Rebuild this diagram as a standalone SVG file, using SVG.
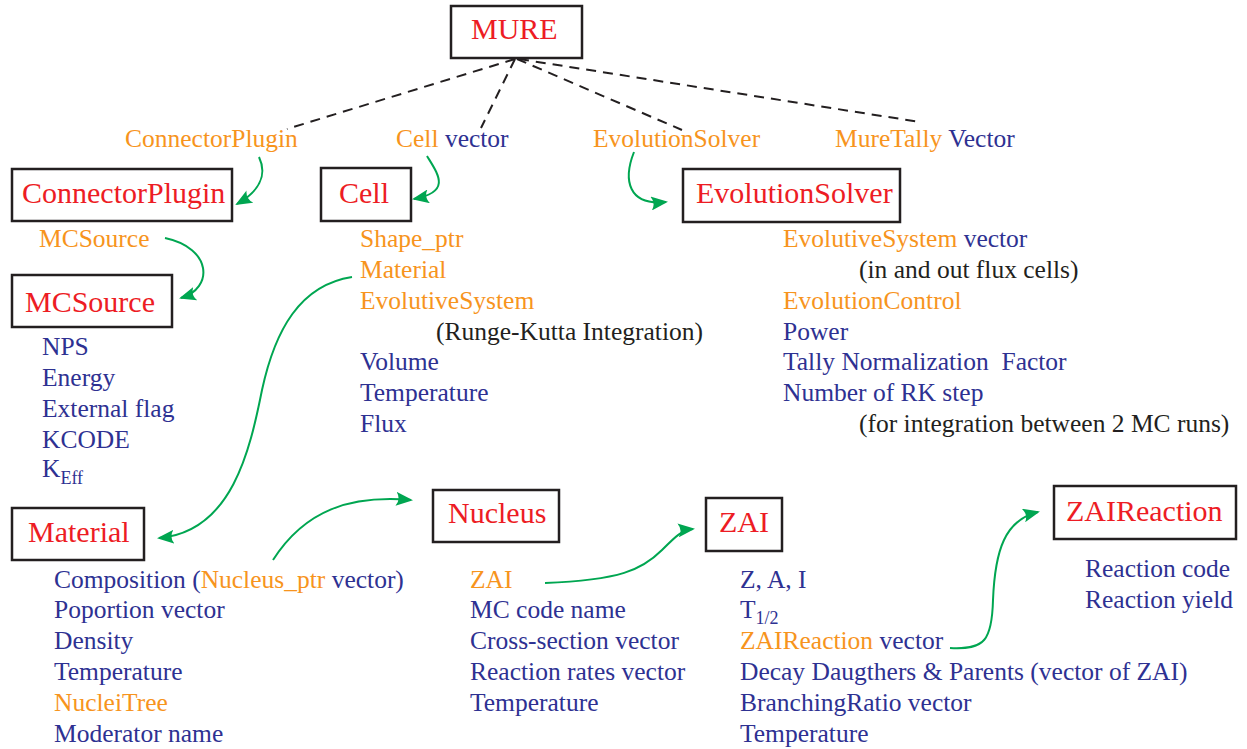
<svg xmlns="http://www.w3.org/2000/svg" width="1247" height="749" viewBox="0 0 1247 749">
<style>
text{font-family:"Liberation Serif","Times New Roman",serif;font-size:25.5px;fill:#2e3192}
.t{font-size:30px;fill:#ed1c24}
.o{fill:#f7941d}
.n{fill:#2e3192}
.k{fill:#231f20}
.sub{font-size:18px}
.box{fill:#fff;stroke:#231f20;stroke-width:2.5}
.dash{fill:none;stroke:#231f20;stroke-width:2;stroke-dasharray:10 7}
.g{fill:none;stroke:#00a651;stroke-width:2;marker-end:url(#ah)}
</style>
<defs>
<marker id="ah" viewBox="0 0 17 14" refX="15" refY="7" markerWidth="17" markerHeight="14" markerUnits="userSpaceOnUse" orient="auto">
<path d="M0,0 L17,7 L0,14 Q5,7 0,0 z" fill="#00a651"/>
</marker>
</defs>
<rect width="1247" height="749" fill="#fff"/>

<g id="connectors">
<path class="dash" d="M515,59 L287,129"/>
<path class="dash" d="M515,59 L481,128"/>
<path class="dash" d="M517,59 L682,130"/>
<path class="dash" d="M519,59 L920,122"/>
<path class="g" d="M259,157 C268,176 258,192 237,204"/>
<path class="g" d="M427,156 C438,174 452,192 414,199"/>
<path class="g" d="M634,152 C623,180 628,206 666,202"/>
<path class="g" d="M165,238 C212,248 214,288 181,298"/>
<path class="g" d="M352,277 C300,285 275,330 262,390 C250,450 232,532 159,538"/>
<path class="g" d="M273,560 C305,510 350,495 411,500"/>
<path class="g" d="M545,583 C620,580 642,570 662,550 C676,536 682,530 693,529"/>
<path class="g" d="M950,648 C985,650 992,640 993,600 C995,550 1005,520 1038,512"/>
</g>

<g id="mure">
<rect class="box" x="451" y="6" width="131" height="52"/>
<text class="t" x="471" y="39">MURE</text>
</g>

<g id="labels">
<text class="o" x="125" y="147">ConnectorPlugin</text>
<text x="396" y="147"><tspan class="o">Cell</tspan> vector</text>
<text class="o" x="593" y="147">EvolutionSolver</text>
<text x="835" y="147"><tspan class="o">MureTally</tspan> Vector</text>
</g>

<g id="connectorplugin">
<rect class="box" x="12" y="169" width="220" height="52"/>
<text class="t" x="22" y="203">ConnectorPlugin</text>
<text class="o" x="39" y="247">MCSource</text>
</g>

<g id="cell">
<rect class="box" x="321" y="168" width="90" height="53"/>
<text class="t" x="339" y="203">Cell</text>
<text class="o" x="360" y="247">Shape_ptr</text>
<text class="o" x="360" y="278">Material</text>
<text class="o" x="360" y="309">EvolutiveSystem</text>
<text class="k" x="436" y="340">(Runge-Kutta Integration)</text>
<text x="360" y="370">Volume</text>
<text x="360" y="401">Temperature</text>
<text x="360" y="432">Flux</text>
</g>

<g id="evolutionsolver">
<rect class="box" x="683" y="169" width="217" height="53"/>
<text class="t" x="696" y="203">EvolutionSolver</text>
<text x="783" y="247"><tspan class="o">EvolutiveSystem</tspan> vector</text>
<text class="k" x="859" y="278">(in and out flux cells)</text>
<text class="o" x="783" y="309">EvolutionControl</text>
<text x="783" y="340">Power</text>
<text x="783" y="370" style="white-space:pre">Tally Normalization  Factor</text>
<text x="783" y="401">Number of RK step</text>
<text class="k" x="859" y="432">(for integration between 2 MC runs)</text>
</g>

<g id="mcsource">
<rect class="box" x="12" y="275" width="160" height="52"/>
<text class="t" x="25" y="312">MCSource</text>
<text x="42" y="355">NPS</text>
<text x="42" y="386">Energy</text>
<text x="42" y="417">External flag</text>
<text x="42" y="448">KCODE</text>
<text x="42" y="477">K<tspan class="sub" dy="7">Eff</tspan></text>
</g>

<g id="material">
<rect class="box" x="12" y="508" width="132" height="52"/>
<text class="t" x="28" y="542">Material</text>
<text x="54" y="588">Composition (<tspan class="o">Nucleus_ptr</tspan> vector)</text>
<text x="54" y="618">Poportion vector</text>
<text x="54" y="649">Density</text>
<text x="54" y="680">Temperature</text>
<text class="o" x="54" y="711">NucleiTree</text>
<text x="54" y="742">Moderator name</text>
</g>

<g id="nucleus">
<rect class="box" x="433" y="490" width="126" height="52"/>
<text class="t" x="448" y="523">Nucleus</text>
<text class="o" x="470" y="588">ZAI</text>
<text x="470" y="618">MC code name</text>
<text x="470" y="649">Cross-section vector</text>
<text x="470" y="680">Reaction rates vector</text>
<text x="470" y="711">Temperature</text>
</g>

<g id="zai">
<rect class="box" x="706" y="498" width="76" height="53"/>
<text class="t" x="719" y="532">ZAI</text>
<text x="740" y="588">Z, A, I</text>
<text x="740" y="618">T<tspan class="sub" dy="6">1/2</tspan></text>
<text x="740" y="649"><tspan class="o">ZAIReaction</tspan> vector</text>
<text x="740" y="680">Decay Daugthers &amp; Parents (vector of ZAI)</text>
<text x="740" y="711">BranchingRatio vector</text>
<text x="740" y="742">Temperature</text>
</g>

<g id="zaireaction">
<rect class="box" x="1054" y="486" width="182" height="53"/>
<text class="t" x="1066" y="521">ZAIReaction</text>
<text x="1085" y="577">Reaction code</text>
<text x="1085" y="608">Reaction yield</text>
</g>
</svg>
